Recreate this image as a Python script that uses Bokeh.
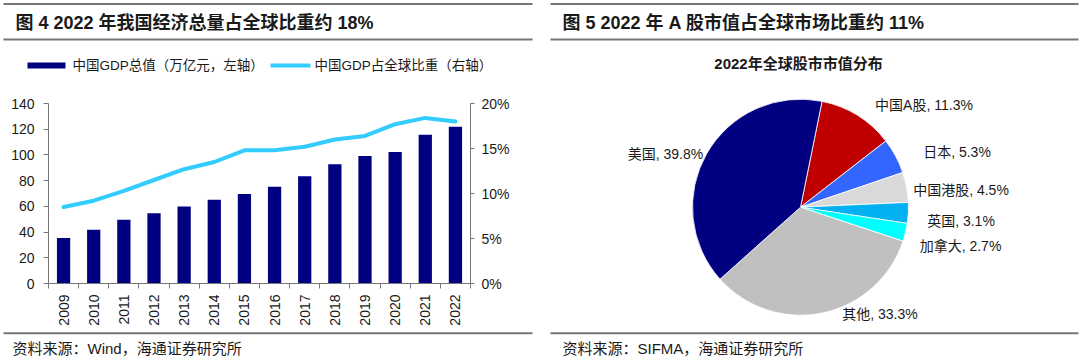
import numpy as np
from bokeh.plotting import figure
from bokeh.layouts import column, row
from bokeh.models import Range1d, LinearAxis, FixedTicker, PrintfTickFormatter
from bokeh.embed import file_html
from bokeh.resources import INLINE
from bokeh.core.properties import value

# ---------------- data ----------------
years = ["2009", "2010", "2011", "2012", "2013", "2014", "2015",
         "2016", "2017", "2018", "2019", "2020", "2021", "2022"]
gdp_trillion = [35.3, 41.8, 49.5, 54.6, 59.8, 65.2, 69.6,
                75.2, 83.5, 92.8, 99.2, 102.3, 115.7, 121.9]
gdp_share_pct = [8.5, 9.2, 10.3, 11.5, 12.7, 13.5, 14.8,
                 14.8, 15.2, 16.0, 16.4, 17.7, 18.4, 18.0]
left_ticks = [0, 20, 40, 60, 80, 100, 120, 140]
right_ticks = [0, 5, 10, 15, 20]

pie_names = ["中国A股", "日本", "中国港股", "英国", "加拿大", "其他", "美国"]
pie_values = [11.3, 5.3, 4.5, 3.1, 2.7, 33.3, 39.8]

title_left = "图 4  2022 年我国经济总量占全球比重约 18%"
title_right = "图 5  2022 年 A 股市值占全球市场比重约 11%"
legend_bar = "中国GDP总值（万亿元，左轴）"
legend_line = "中国GDP占全球比重（右轴）"
pie_title = "2022年全球股市市值分布"
source_left = "资料来源：Wind，海通证券研究所"
source_right = "资料来源：SIFMA，海通证券研究所"

# ---------------- styles / layout ----------------
FONT = "Liberation Sans, Noto Sans CJK SC"
TXT = "#1a1a1a"
RULE = "#767676"
NAVY = "#000080"
SKY = "#33CCFF"
pie_colors = ["#C00000", "#3366FF", "#D9D9D9", "#00B0F0", "#00FFFF", "#C0C0C0", "#000080"]
pie_start_deg = 11.5          # clockwise from 12 o'clock
pie_cx, pie_cy, pie_r = 800, 206.7, 108
label_pos = [(923.5, 104), (956.5, 151), (960.5, 189), (960.5, 220),
             (960, 245), (879.5, 313.5), (665, 153)]

W, H_TOP, H_MID, H_BOT = 1080, 80, 250, 31


def blank(fig):
    fig.outline_line_color = None
    fig.grid.visible = False
    fig.background_fill_color = "white"
    fig.border_fill_color = "white"
    fig.frame_align = False
    return fig


# ---------------- top band: titles, rules, legend, pie title ----------------
top = blank(figure(width=W, height=H_TOP, x_range=Range1d(0, W), y_range=Range1d(-H_TOP, 0),
                   min_border=0, x_axis_location=None, y_axis_location=None,
                   output_backend="svg", toolbar_location=None))
top.segment(x0=[3, 550, 3, 550], x1=[532, 1078, 532, 1078], y0=[-3.5, -3.5, -39, -39],
            y1=[-3.5, -3.5, -39, -39], line_color=RULE, line_width=2)
top.text(x=[15, 562], y=[-22, -22], text=[title_left, title_right], text_font=value(FONT),
         text_font_style="bold", text_font_size="18px", text_color=TXT,
         text_baseline="middle", text_align="left")
top.quad(left=[27], right=[65], top=[-62], bottom=[-68], fill_color=NAVY, line_color=None)
top.segment(x0=[270], x1=[310], y0=[-65], y1=[-65], line_color=SKY, line_width=4)
top.text(x=[72, 314], y=[-65, -65], text=[legend_bar, legend_line], text_font=value(FONT),
         text_font_size="13.5px", text_color=TXT, text_baseline="middle", text_align="left")
top.text(x=[798], y=[-63], text=[pie_title], text_font=value(FONT), text_font_style="bold",
         text_font_size="15px", text_color=TXT, text_baseline="middle", text_align="center")

# ---------------- left chart ----------------
xc = [i + 0.5 for i in range(len(years))]
p = figure(width=540, height=H_MID, x_range=Range1d(0, len(years)), y_range=Range1d(0, 140),
           min_border_left=48, min_border_right=70, min_border_top=23, min_border_bottom=47,
           output_backend="svg", toolbar_location=None)
blank(p)
p.vbar(x=xc, top=gdp_trillion, width=0.44, fill_color=NAVY, line_color=None)
p.extra_y_ranges = {"pct": Range1d(0, 20)}
p.line(x=xc, y=gdp_share_pct, y_range_name="pct", line_color=SKY, line_width=4,
       line_join="round", line_cap="round")

xa = p.xaxis[0]
xa.ticker = FixedTicker(ticks=xc, minor_ticks=list(range(len(years) + 1)))
xa.major_label_overrides = {t: y for t, y in zip(xc, years)}
xa.major_label_orientation = np.pi / 2
xa.minor_tick_in = 0
xa.minor_tick_out = 5
xa.minor_tick_line_color = RULE
xa.major_label_standoff = 5

ya = p.yaxis[0]
ya.ticker = FixedTicker(ticks=left_ticks)
ya.minor_tick_line_color = None
ya.major_tick_in = 0
ya.major_tick_out = 5
ya.major_label_standoff = 9

ra = LinearAxis(y_range_name="pct", ticker=FixedTicker(ticks=right_ticks),
                formatter=PrintfTickFormatter(format="%d%%"))
ra.minor_tick_line_color = None
ra.major_tick_in = 0
ra.major_tick_out = 4
ra.major_label_standoff = 7
p.add_layout(ra, "right")

for ax in (xa, ya, ra):
    ax.axis_line_color = RULE
    ax.major_tick_line_color = RULE if ax is not xa else None
    ax.major_label_text_font = FONT
    ax.major_label_text_font_size = "14px"
    ax.major_label_text_color = TXT

# ---------------- pie chart ----------------
q = blank(figure(width=W - 540, height=H_MID, x_range=Range1d(540, W),
                 y_range=Range1d(-(H_TOP + H_MID), -H_TOP),
                 min_border=0, x_axis_location=None, y_axis_location=None,
                 output_backend="svg", toolbar_location=None))
cum = np.concatenate([[0], np.cumsum(pie_values)]) / sum(pie_values) * 360.0
cw_start = pie_start_deg + cum[:-1]
cw_end = pie_start_deg + cum[1:]
start_angles = np.deg2rad(90 - cw_end)
end_angles = np.deg2rad(90 - cw_start)
q.wedge(x=pie_cx, y=-pie_cy, radius=pie_r, start_angle=start_angles, end_angle=end_angles,
        fill_color=pie_colors, line_color="white", line_width=0.8, direction="anticlock")
q.text(x=[lp[0] for lp in label_pos], y=[-lp[1] for lp in label_pos],
       text=[f"{n}, {v}%" for n, v in zip(pie_names, pie_values)], text_font=value(FONT),
       text_font_size="14px", text_color=TXT, text_align="center", text_baseline="middle")

# ---------------- bottom band: rules and sources ----------------
y0b = H_TOP + H_MID
bot = blank(figure(width=W, height=H_BOT, x_range=Range1d(0, W), y_range=Range1d(-(y0b + H_BOT), -y0b),
                   min_border=0, x_axis_location=None, y_axis_location=None,
                   output_backend="svg", toolbar_location=None))
bot.segment(x0=[3, 550], x1=[532, 1078], y0=[-332.7, -332.7], y1=[-332.7, -332.7],
            line_color=RULE, line_width=2)
bot.text(x=[12, 562], y=[-348, -348], text=[source_left, source_right], text_font=value(FONT),
         text_font_size="15px", text_color=TXT, text_align="left", text_baseline="middle")

layout = column(top, row(p, q), bot)
open("out.html", "w").write(file_html(layout, INLINE))
